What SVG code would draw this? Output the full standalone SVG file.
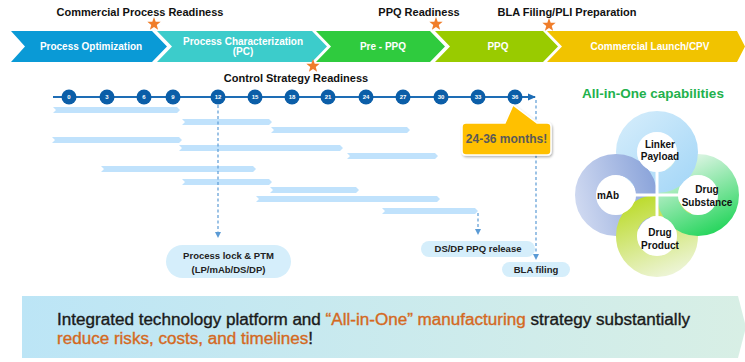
<svg xmlns="http://www.w3.org/2000/svg" width="745" height="362" viewBox="0 0 745 362">
<style>
.ph{font-family:"Liberation Sans",Arial,sans-serif;font-weight:bold;font-size:10px;fill:#fff;text-anchor:middle}
.ms{font-family:"Liberation Sans",Arial,sans-serif;font-weight:bold;font-size:11px;fill:#111;text-anchor:middle}
.tn{font-family:"Liberation Sans",Arial,sans-serif;font-weight:bold;font-size:6px;fill:#fff;text-anchor:middle}
.bar{fill:#C0E2FC}
.pill{fill:#D5EEFB}
.pt{font-family:"Liberation Sans",Arial,sans-serif;font-weight:bold;font-size:9.5px;fill:#222;text-anchor:middle}
.rt{font-family:"Liberation Sans",Arial,sans-serif;font-weight:bold;font-size:10px;fill:#111;text-anchor:middle}
.dash{stroke:#5B9BD5;stroke-width:1.2;stroke-dasharray:3 2.5;fill:none}
.star{fill:#F07D2A}
.ring{fill:none;stroke-width:21}
.bt{font-family:"Liberation Sans",Arial,sans-serif;font-size:16px;fill:#1a1a1a;stroke:#1a1a1a;stroke-width:0.35}
.or{fill:#D4691F;stroke:#D4691F}
</style>
<defs>
<path id="star" d="M0,-7 L1.7,-2.35 L6.66,-2.16 L2.76,0.9 L4.11,5.66 L0,2.9 L-4.11,5.66 L-2.76,0.9 L-6.66,-2.16 L-1.7,-2.35 Z"/>
<marker id="ah" viewBox="0 0 6 6" refX="5" refY="3" markerWidth="6" markerHeight="6" orient="auto" markerUnits="userSpaceOnUse">
<path d="M0,0 L6,3 L0,6 Z" fill="#5B9BD5"/>
</marker>
<marker id="ah2" viewBox="0 0 8 8" refX="7" refY="4" markerWidth="8" markerHeight="8" orient="auto" markerUnits="userSpaceOnUse">
<path d="M0,0.5 L8,4 L0,7.5 Z" fill="#1E6DB5"/>
</marker>
<filter id="sh" x="-20%" y="-20%" width="140%" height="150%">
<feDropShadow dx="1" dy="1.5" stdDeviation="1.2" flood-color="#000" flood-opacity="0.3"/>
</filter>
<linearGradient id="gBan" x1="0" y1="0" x2="1" y2="0">
<stop offset="0" stop-color="#BCE5F6"/>
<stop offset="1" stop-color="#D8EFE5"/>
</linearGradient>
<linearGradient id="gLk" gradientUnits="userSpaceOnUse" x1="625" y1="115" x2="695" y2="190">
<stop offset="0" stop-color="#D3ECFB"/>
<stop offset="1" stop-color="#A3D6F7"/>
</linearGradient>
<linearGradient id="gMab" gradientUnits="userSpaceOnUse" x1="576" y1="200" x2="655" y2="180">
<stop offset="0" stop-color="#CED8F0"/>
<stop offset="1" stop-color="#8BA4DA"/>
</linearGradient>
<linearGradient id="gDs" gradientUnits="userSpaceOnUse" x1="680" y1="158" x2="715" y2="236">
<stop offset="0" stop-color="#E4F6E9"/>
<stop offset="1" stop-color="#20D458"/>
</linearGradient>
<linearGradient id="gDp" gradientUnits="userSpaceOnUse" x1="640" y1="197" x2="670" y2="277">
<stop offset="0" stop-color="#BCDB2C"/>
<stop offset="1" stop-color="#EEF5DA"/>
</linearGradient>
</defs>

<rect width="745" height="362" fill="#fff"/>

<!-- phase chevrons -->
<g id="phase-po">
<polygon points="11,31 152,31 167,46.5 152,62 11,62 25,46.5" fill="#0A9AD6"/>
<text class="ph" x="91" y="50">Process Optimization</text>
</g>
<g id="phase-pc">
<polygon points="157,31 312,31 327,46.5 312,62 157,62 172,46.5" fill="#3CCCCB"/>
<text class="ph" x="243" y="44.5">Process Characterization</text>
<text class="ph" x="243" y="54.5">(PC)</text>
</g>
<g id="phase-preppq">
<polygon points="316,31 430,31 445,46.5 430,62 316,62 331,46.5" fill="#2FCB3E"/>
<text class="ph" x="383" y="50">Pre - PPQ</text>
</g>
<g id="phase-ppq">
<polygon points="435,31 543,31 558,46.5 543,62 435,62 450,46.5" fill="#99CB00"/>
<text class="ph" x="498" y="50">PPQ</text>
</g>
<g id="phase-commercial">
<polygon points="547,31 737,31 745,46.5 737,62 547,62 562,46.5" fill="#F1C300"/>
<text class="ph" x="650" y="50">Commercial Launch/CPV</text>
</g>

<!-- milestones -->
<g id="ms-commercial">
<text class="ms" x="140" y="16">Commercial Process Readiness</text>
<use href="#star" class="star" x="154" y="24"/>
</g>
<g id="ms-control">
<text class="ms" x="296" y="82">Control Strategy Readiness</text>
<use href="#star" class="star" x="313" y="66"/>
</g>
<g id="ms-ppq">
<text class="ms" x="419" y="16">PPQ Readiness</text>
<use href="#star" class="star" x="436" y="24"/>
</g>
<g id="ms-bla">
<text class="ms" x="567" y="16">BLA Filing/PLI Preparation</text>
<use href="#star" class="star" x="549" y="25"/>
</g>

<!-- timeline -->
<g id="timeline">
<line x1="53" y1="97" x2="535" y2="97" stroke="#1E6DB5" stroke-width="2" marker-end="url(#ah2)"/>
<g fill="#0B5EA8">
<circle cx="69" cy="97" r="7.5"/><circle cx="107" cy="97" r="7.5"/><circle cx="144" cy="97" r="7.5"/><circle cx="173" cy="97" r="7.5"/>
<circle cx="218" cy="97" r="7.5"/><circle cx="255" cy="97" r="7.5"/><circle cx="292" cy="97" r="7.5"/><circle cx="328" cy="97" r="7.5"/>
<circle cx="366" cy="97" r="7.5"/><circle cx="403" cy="97" r="7.5"/><circle cx="441" cy="97" r="7.5"/><circle cx="478" cy="97" r="7.5"/>
<circle cx="515" cy="97" r="7.5"/>
</g>
<text class="tn" x="69" y="99">0</text><text class="tn" x="107" y="99">3</text><text class="tn" x="144" y="99">6</text><text class="tn" x="173" y="99">9</text>
<text class="tn" x="218" y="99">12</text><text class="tn" x="255" y="99">15</text><text class="tn" x="292" y="99">18</text><text class="tn" x="328" y="99">21</text>
<text class="tn" x="366" y="99">24</text><text class="tn" x="403" y="99">27</text><text class="tn" x="441" y="99">30</text><text class="tn" x="478" y="99">33</text>
<text class="tn" x="515" y="99">36</text>
</g>

<!-- gantt bars -->
<g id="bars">
<polygon class="bar" points="53,107 177,107 180,110 177,113 53,113 56,110"/>
<polygon class="bar" points="182,119 269,119 272,122 269,125 182,125 185,122"/>
<polygon class="bar" points="271,127 407,127 410,130 407,133 271,133 274,130"/>
<polygon class="bar" points="52,137 179,137 182,140 179,143 52,143 55,140"/>
<polygon class="bar" points="179,145 340,145 343,148 340,151 179,151 182,148"/>
<polygon class="bar" points="347,153 435,153 438,156 435,159 347,159 350,156"/>
<polygon class="bar" points="101,166 253,166 256,169 253,172 101,172 104,169"/>
<polygon class="bar" points="182,179 269,179 272,182 269,185 182,185 185,182"/>
<polygon class="bar" points="270,187 356,187 359,190 356,193 270,193 273,190"/>
<polygon class="bar" points="256,196 437,196 440,199 437,202 256,202 259,199"/>
<polygon class="bar" points="382,208 475,208 478,211 475,214 382,214 385,211"/>
</g>

<!-- connectors -->
<g id="connectors">
<line class="dash" x1="218" y1="105" x2="218" y2="237" marker-end="url(#ah)"/>
<line class="dash" x1="478" y1="213" x2="478" y2="234" marker-end="url(#ah)"/>
<line class="dash" x1="536" y1="100" x2="536" y2="259" marker-end="url(#ah)"/>
</g>

<!-- callout -->
<g id="callout">
<path d="M466,123 L505,123 L513,105 L537,123 L547,123 Q551,123 551,127 L551,151 Q551,155 547,155 L466,155 Q462,155 462,151 L462,127 Q462,123 466,123 Z" fill="#FFC000" stroke="#fff" stroke-width="1.5" filter="url(#sh)"/>
<text x="506.5" y="143" font-family="Liberation Sans, Arial, sans-serif" font-weight="bold" font-size="12" fill="#595959" text-anchor="middle">24-36 months!</text>
</g>

<!-- pills -->
<g id="pill-lock">
<rect class="pill" x="166" y="245" width="125" height="33" rx="16.5"/>
<text class="pt" x="228.5" y="258.5">Process lock &amp; PTM</text>
<text class="pt" x="228.5" y="272.5">(LP/mAb/DS/DP)</text>
</g>
<g id="pill-dsdp">
<rect class="pill" x="421" y="241" width="114" height="16" rx="8"/>
<text class="pt" x="478" y="252">DS/DP PPQ release</text>
</g>
<g id="pill-bla">
<rect class="pill" x="502" y="262" width="68" height="15" rx="7.5"/>
<text class="pt" x="536" y="273">BLA filing</text>
</g>

<!-- All-in-One -->
<g id="allinone">
<text x="653" y="98" font-family="Liberation Sans, Arial, sans-serif" font-weight="bold" font-size="13.5" fill="#22B14C" text-anchor="middle">All-in-One capabilities</text>
<circle class="ring" cx="616" cy="195" r="30.5" stroke="url(#gMab)"/>
<circle class="ring" cx="657" cy="236" r="30.5" stroke="url(#gDp)"/>
<circle class="ring" cx="698" cy="195" r="30.5" stroke="url(#gDs)"/>
<circle class="ring" cx="657" cy="152" r="30.5" stroke="url(#gLk)"/>
<path class="ring" d="M616,164.5 A30.5,30.5 0 0 1 646.5,195" stroke="url(#gMab)"/>
<g fill="#fff">
<circle cx="616" cy="195" r="19.5"/>
<circle cx="657" cy="236" r="19.5"/>
<circle cx="698" cy="195" r="19.5"/>
<circle cx="657" cy="152" r="19.5"/>
</g>
<g stroke="#fff" stroke-width="3">
<line x1="657" y1="168" x2="657" y2="221"/>
<line x1="630" y1="195" x2="684" y2="195"/>
</g>
<g id="ring-linker"><text class="rt" x="660" y="148">Linker</text><text class="rt" x="660" y="160">Payload</text></g>
<g id="ring-mab"><text class="rt" x="608" y="199">mAb</text></g>
<g id="ring-ds"><text class="rt" x="707" y="193">Drug</text><text class="rt" x="707" y="206">Substance</text></g>
<g id="ring-dp"><text class="rt" x="660" y="236">Drug</text><text class="rt" x="660" y="249">Product</text></g>
</g>

<!-- bottom banner -->
<g id="banner">
<polygon points="22,296 738,296 746,327 738,358 22,358" fill="url(#gBan)"/>
<text class="bt" x="57" y="325" textLength="633" lengthAdjust="spacingAndGlyphs">Integrated technology platform and <tspan class="or">“All-in-One” manufacturing</tspan> strategy substantially</text>
<text class="bt" x="57" y="344" textLength="256" lengthAdjust="spacingAndGlyphs"><tspan class="or">reduce risks, costs, and timelines</tspan>!</text>
</g>
</svg>
